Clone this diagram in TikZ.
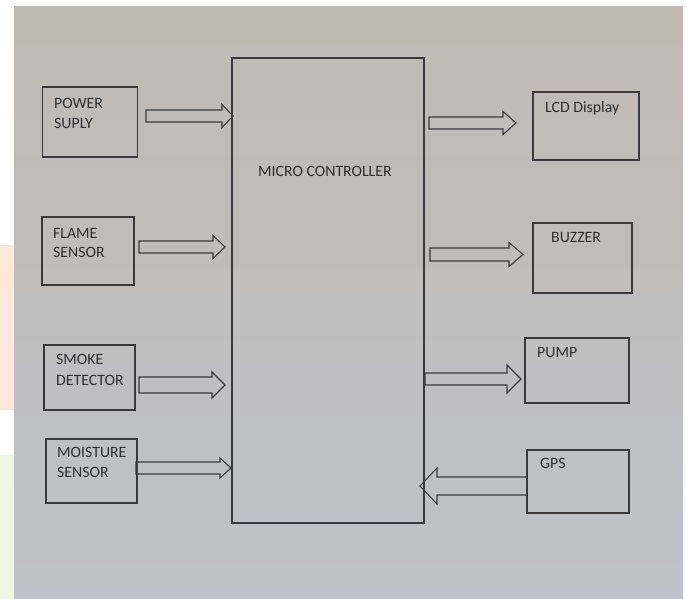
\documentclass[tikz,border=0pt]{standalone}
\usepackage{fontspec}
\setmainfont{Carlito}
\usetikzlibrary{calc}
\definecolor{bgtop}{RGB}{192,186,178}
\definecolor{bgmid}{RGB}{224,222,225}
\definecolor{bgbot}{RGB}{190,194,202}
\definecolor{ink}{RGB}{58,58,60}
\definecolor{txt}{RGB}{48,48,50}
\definecolor{blurorange}{RGB}{253,232,218}
\definecolor{blurgreen}{RGB}{238,247,228}
\tikzset{
  box/.style={draw=ink, line width=1.2pt, rectangle, inner sep=0pt},
  lbl/.style={text=txt, font=\fontsize{15.8}{18}\selectfont, inner sep=0pt, anchor=base west},
  blockarrow/.style n args={3}{draw=ink, line width=1.1pt, to path={
    let \p1=(\tikztostart), \p2=(\tikztotarget), \n1={sign(\x2-\x1)} in
    (\x1,\y1+#1) -- (\x2-\n1*#3,\y1+#1) -- (\x2-\n1*#3,\y1+#2) -- (\x2,\y1)
    -- (\x2-\n1*#3,\y1-#2) -- (\x2-\n1*#3,\y1-#1) -- (\x1,\y1-#1) -- cycle}}
}
\begin{document}
\begin{tikzpicture}[x=1pt,y=-1pt]
\useasboundingbox (0,0) rectangle (686,599);
\fill[white] (0,0) rectangle (686,599);
\fill[blurorange] (0,245) rectangle (15,410);
\fill[blurgreen] (0,455) rectangle (15,599);
\shade[top color=bgtop, middle color=bgmid, bottom color=bgbot] (14,7) rectangle (683,599);

% blocks
\node[box, minimum width=95pt, minimum height=70pt] (ps) at (90,122) {};
\node[box, minimum width=92pt, minimum height=68pt] (fs) at (88,251) {};
\node[box, minimum width=91pt, minimum height=65pt] (sd) at (89.5,377.5) {};
\node[box, minimum width=91pt, minimum height=64pt] (ms) at (91.5,471) {};
\node[box, minimum width=192pt, minimum height=465pt] (mc) at (328,290.5) {};
\node[box, minimum width=106pt, minimum height=68pt] (lcd) at (586,126) {};
\node[box, minimum width=99pt, minimum height=70pt] (bz) at (582.5,258) {};
\node[box, minimum width=104pt, minimum height=65pt] (pm) at (577,370.5) {};
\node[box, minimum width=102pt, minimum height=63pt] (gps) at (578,481.5) {};

% labels
\node[lbl] (t1) at (54,109) {POWER};
\node[lbl] (t2) at (54,129) {SUPLY};
\node[lbl] (t3) at (53,238) {FLAME};
\node[lbl] (t4) at (53,258) {SENSOR};
\node[lbl] (t5) at (56,364) {SMOKE};
\node[lbl] (t6) at (56,385) {DETECTOR};
\node[lbl] (t7) at (57,457) {MOISTURE};
\node[lbl] (t8) at (57,477) {SENSOR};
\node[lbl] (t9) at (258,177) {MICRO CONTROLLER};
\node[lbl] (t10) at (545,113) {LCD Display};
\node[lbl] (t11) at (551,242) {BUZZER};
\node[lbl] (t12) at (537,357) {PUMP};
\node[lbl] (t13) at (540,468) {GPS};

% arrow end points
\coordinate (a1s) at (146,116); \coordinate (a1t) at (233,116);
\coordinate (a2s) at (139,247); \coordinate (a2t) at (225,247);
\coordinate (a3s) at (139,385); \coordinate (a3t) at (225,385);
\coordinate (a4s) at (136,468); \coordinate (a4t) at (231,468);
\coordinate (a5s) at (429,123); \coordinate (a5t) at (516,123);
\coordinate (a6s) at (430,254.5); \coordinate (a6t) at (523,254.5);
\coordinate (a7s) at (425,379); \coordinate (a7t) at (521,379);
\coordinate (a8s) at (527,486); \coordinate (a8t) at (420,486);

\draw[blockarrow={6pt}{11.5pt}{11pt}] (a1s) to (a1t);
\draw[blockarrow={6pt}{11.5pt}{12pt}] (a2s) to (a2t);
\draw[blockarrow={8pt}{13pt}{13pt}] (a3s) to (a3t);
\draw[blockarrow={6pt}{10pt}{11pt}] (a4s) to (a4t);
\draw[blockarrow={6pt}{11.5pt}{13pt}] (a5s) to (a5t);
\draw[blockarrow={6.5pt}{12pt}{14pt}] (a6s) to (a6t);
\draw[blockarrow={6pt}{14pt}{14pt}] (a7s) to (a7t);
\draw[blockarrow={9pt}{18pt}{17pt}] (a8s) to (a8t);
\end{tikzpicture}
\end{document}
